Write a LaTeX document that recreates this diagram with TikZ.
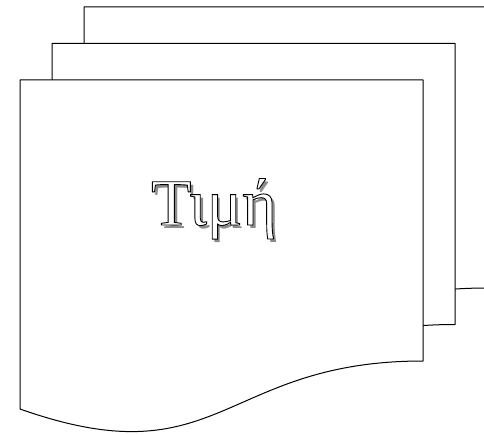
\documentclass[tikz,border=0pt]{standalone}
\usepackage{fontspec}
\setmainfont{Liberation Serif}
\usepackage{xcolor}
\usepackage{tikz}
\usetikzlibrary{positioning}

% hollow letters: fill white, stroke black
\newcommand{\hollowtext}[1]{%
  {\color{white}\special{pdf:literal direct 0 0 0 RG 0.9 w 2 Tr}#1\special{pdf:literal direct 0 Tr}}}

\begin{document}
\begin{tikzpicture}[
  x=1pt, y=-1pt,
  page/.style={draw=black, fill=white, line width=1pt, line join=round},
  title/.style={font=\fontsize{66}{70}\selectfont, inner sep=0pt, anchor=base}
]
  \useasboundingbox (0,0) rectangle (484,435);
  \clip (0,0) rectangle (484,435);

  % three stacked pages, back to front
  \foreach \px/\py in {84/7, 52/43.5, 20/80}{
    \draw[page, shift={(\px,\py)}]
      (0,0) -- (403,0) -- (403,281)
      .. controls (201,281) and (201,400) .. (0,329) -- cycle;
  }

  % label with shadow
  \node[title, text=black!45] (shadow) at (217,229) {Τιμή};
  \node[title] (label) at (214,225) {\hollowtext{Τιμή}};
\end{tikzpicture}
\end{document}
